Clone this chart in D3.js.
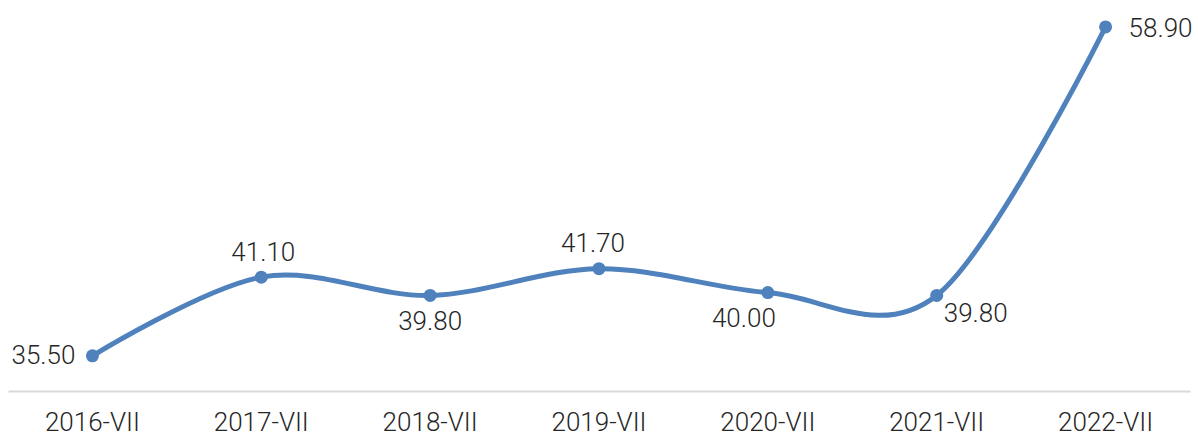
<!DOCTYPE html>
<html>
<head>
    <meta charset="utf-8">
    <title>Line chart 2016-2022</title>
    <script src="https://d3js.org/d3.v7.min.js"></script>
    <style>
        body { margin: 0; background: #fff; }
        text { font-family: Roboto, "Noto Sans", sans-serif; font-weight: 300; fill: #262626; }
    </style>
</head>
<body>
    <script>
    // data
    var categories = ["2016-VII", "2017-VII", "2018-VII", "2019-VII", "2020-VII", "2021-VII", "2022-VII"];
    var values = [35.50, 41.10, 39.80, 41.70, 40.00, 39.80, 58.90];

    // where each data label sits relative to its point
    var labelPos = [
      { dx: -17, dy: 8, anchor: "end" },
      { dx: 2, dy: -16, anchor: "middle" },
      { dx: 0, dy: 35, anchor: "middle" },
      { dx: -6, dy: -17, anchor: "middle" },
      { dx: -24, dy: 34, anchor: "middle" },
      { dx: 7, dy: 27, anchor: "start" },
      { dx: 23, dy: 10, anchor: "start" }
    ];

    var width = 1198, height = 439;

    var svg = d3.select("body")
      .append("svg")
      .attr("width", width)
      .attr("height", height);

    var x = d3.scaleBand()
      .domain(categories)
      .range([8, 1190])
      .padding(0);

    var y = d3.scaleLinear()
      .domain([33, 60])
      .range([391, 11.5]);

    var cx = function(d, i) { return x(categories[i]) + x.bandwidth() / 2; };

    // axis line + labels
    var xAxis = svg.append("g")
      .attr("transform", "translate(0,391)")
      .call(d3.axisBottom(x).tickSize(0).tickPadding(22));
    xAxis.select(".domain").attr("stroke", "#d9d9d9").attr("stroke-width", 2);
    xAxis.selectAll("text")
      .attr("font-size", 26)
      .attr("font-family", "Roboto, 'Noto Sans', sans-serif")
      .attr("fill", "#262626");

    // smoothed line
    var line = d3.line()
      .x(cx)
      .y(function(d) { return y(d); })
      .curve(d3.curveCardinal.tension(0));

    svg.append("path")
      .datum(values)
      .attr("d", line)
      .attr("fill", "none")
      .attr("stroke", "#4f81bd")
      .attr("stroke-width", 5)
      .attr("stroke-linecap", "round");

    svg.append("g").selectAll("circle")
      .data(values)
      .enter()
      .append("circle")
      .attr("cx", cx)
      .attr("cy", function(d) { return y(d); })
      .attr("r", 6.5)
      .attr("fill", "#4f81bd");

    svg.append("g").selectAll("text")
      .data(values)
      .enter()
      .append("text")
      .attr("x", function(d, i) { return cx(d, i) + labelPos[i].dx; })
      .attr("y", function(d, i) { return y(d) + labelPos[i].dy; })
      .attr("text-anchor", function(d, i) { return labelPos[i].anchor; })
      .attr("font-size", 26)
      .text(function(d) { return d.toFixed(2); });
    </script>
</body>
</html>
